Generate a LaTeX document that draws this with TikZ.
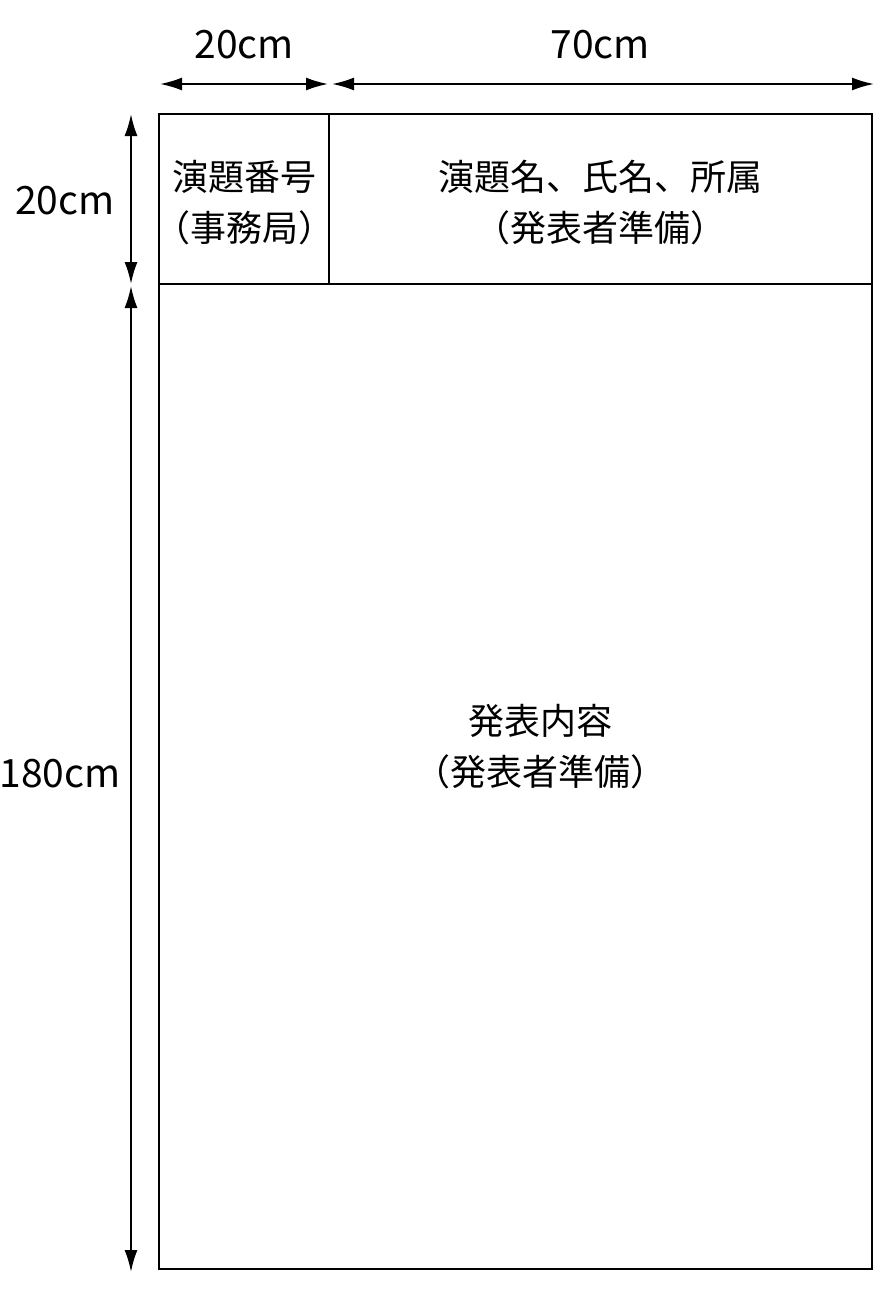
\documentclass[tikz,border=0pt]{standalone}
\usepackage{fontspec}
\setmainfont{Noto Sans CJK JP}
\usetikzlibrary{arrows.meta}

\begin{document}
\begin{tikzpicture}[x=1pt, y=-1pt,
    cell/.style={draw, line width=2.8pt, inner sep=0pt},
    dimline/.style={{Latex[length=22pt,width=13pt]}-{Latex[length=22pt,width=13pt]}, line width=2pt},
    lbl/.style={align=center, font=\fontsize{36}{51}\selectfont},
    dimlbl/.style={font=\fontsize{39}{46}\selectfont}]
    \useasboundingbox (0,0) rectangle (890,1298);

    % Cells
    \node[cell, minimum width=170pt, minimum height=170pt] (num) at (244,199) {};
    \node[cell, minimum width=543pt, minimum height=170pt] (title) at (600.5,199) {};
    \node[cell, minimum width=713pt, minimum height=985pt] (body) at (515.5,776.5) {};

    % Texts
    \node[lbl] (numtxt) at (244,203) {演題番号\\（事務局）};
    \node[lbl] (titletxt) at (600,203) {演題名、氏名、所属\\（発表者準備）};
    \node[lbl] (bodytxt) at (540,747) {発表内容\\（発表者準備）};

    % Dimensions
    \coordinate (h1) at (160,84);
    \coordinate (h2) at (328,84);
    \coordinate (h3) at (332,84);
    \coordinate (h4) at (874,84);
    \coordinate (v1) at (131,114);
    \coordinate (v2) at (131,284);
    \coordinate (v3) at (131,286);
    \coordinate (v4) at (131,1272);
    \draw[dimline] (h1) -- (h2);
    \draw[dimline] (h3) -- (h4);
    \draw[dimline] (v1) -- (v2);
    \draw[dimline] (v3) -- (v4);

    \node[dimlbl] (wnum) at (244,45) {20cm};
    \node[dimlbl] (wtitle) at (600,45) {70cm};
    \node[dimlbl] (hhead) at (65,201) {20cm};
    \node[dimlbl, inner sep=1pt] (hbody) at (60,774) {180cm};
\end{tikzpicture}
\end{document}
